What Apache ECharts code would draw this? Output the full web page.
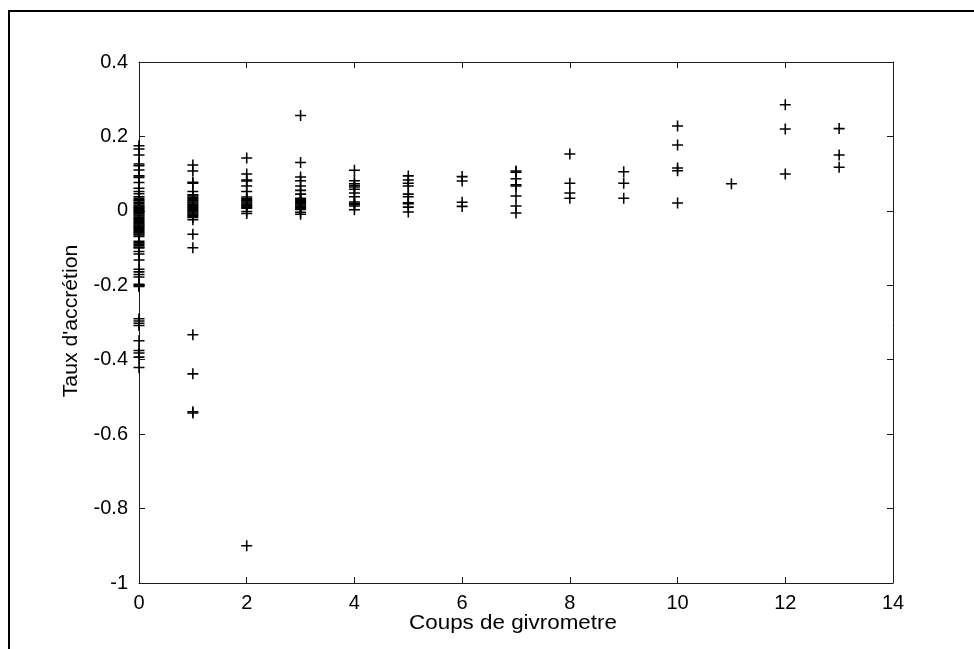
<!DOCTYPE html>
<html>
<head>
<meta charset="utf-8">
<script src="https://cdn.jsdelivr.net/npm/echarts@6/dist/echarts.min.js"></script>
<style>
html,body{margin:0;padding:0;background:#fff;}
#chart{width:974px;height:649px;}
</style>
</head>
<body>
<div id="chart"></div>
<script>
// ---- data ----
const xTickLabels = ['0','2','4','6','8','10','12','14'];
const yTickLabels = ['-1','-0.8','-0.6','-0.4','-0.2','0','0.2','0.4'];
const xAxisTitle = 'Coups de givrometre';
const yAxisTitle = "Taux d'accrétion";

const col0 = [0.175,0.166,0.150,0.126,0.121,0.110,0.094,0.090,0.076,0.061,0.052,0.046,
  0.038,0.034,0.030,0.027,0.023,0.020,0.016,0.013,0.010,0.007,0.004,0.001,-0.002,-0.005,
  -0.008,-0.011,-0.014,-0.017,-0.020,-0.023,-0.026,-0.029,-0.032,-0.035,-0.038,-0.041,
  -0.044,-0.047,-0.050,-0.053,-0.056,-0.059,-0.062,-0.065,-0.069,
  -0.082,-0.086,-0.090,-0.094,-0.098,-0.100,-0.109,-0.116,-0.132,-0.157,-0.164,-0.171,
  -0.178,-0.197,-0.200,-0.203,-0.290,-0.296,-0.302,-0.308,-0.349,-0.375,-0.382,-0.393,-0.421];
const col1 = [0.123,0.107,0.077,0.074,0.052,0.043,0.040,0.036,0.033,0.030,0.027,0.024,0.021,
  0.018,0.015,0.012,0.009,0.006,0.003,0.000,-0.003,-0.006,-0.009,-0.012,-0.015,-0.018,-0.024,
  -0.063,-0.099,-0.333,-0.438,-0.540,-0.543];
const col2 = [0.142,0.099,0.083,0.080,0.067,0.052,0.037,0.033,0.030,0.027,0.024,0.021,0.018,
  0.015,0.012,0.009,0.007,-0.002,-0.007,-0.900];
const col3 = [0.256,0.130,0.091,0.081,0.067,0.055,0.045,0.034,0.031,0.028,0.025,0.022,0.019,
  0.016,0.013,0.010,0.007,0.004,-0.004,-0.009];
const col4 = [0.109,0.081,0.073,0.068,0.064,0.058,0.048,0.038,0.024,0.020,0.017,0.013,0.003];
const col5 = [0.094,0.083,0.074,0.067,0.045,0.038,0.022,0.019,0.010,-0.003];
const col6 = [0.092,0.080,0.023,0.012];
const col7 = [0.107,0.104,0.086,0.070,0.067,0.040,0.013,-0.006];
const col8 = [0.153,0.074,0.048,0.034];
const col9 = [0.105,0.074,0.034];
const col10 = [0.228,0.177,0.115,0.108,0.021];
const col11 = [0.073];
const col12 = [0.285,0.220,0.099];
const col13 = [0.221,0.150,0.117];

const columnX = [0,1,2,3,4,5,6,7,8,9,10,11,12,13];
const columns = [col0,col1,col2,col3,col4,col5,col6,col7,col8,col9,col10,col11,col12,col13];

// ---- build ----
const points = [];
columns.forEach((c, i) => c.forEach(v => points.push([columnX[i], v])));

const FONT = '"Liberation Sans", Arial, sans-serif';
const AX = '#1a1a1a';
const plusPath = 'path://M4.3,0H5.7V4.3H10V5.7H5.7V10H4.3V5.7H0V4.3H4.3Z';

function lab(arr){ return v => { const s = arr.find(t => Math.abs(parseFloat(t) - v) < 1e-6); return s === undefined ? '' : s; }; }

const chart = echarts.init(document.getElementById('chart'), null, {renderer:'canvas'});
const common = {
  axisLine:{show:true, onZero:false, lineStyle:{color:AX, width:1}},
  axisTick:{show:true, inside:true, length:6, lineStyle:{color:AX, width:1}},
  splitLine:{show:false}
};
chart.setOption({
  animation:false,
  backgroundColor:'#fff',
  grid:{left:139, top:62, right:81, bottom:66, containLabel:false},
  xAxis:[
    Object.assign({type:'value', min:0, max:14, interval:2, position:'bottom',
      axisLabel:{show:true, margin:10, color:'#000', fontFamily:FONT, fontSize:20, formatter:lab(xTickLabels)}}, common),
    Object.assign({type:'value', min:0, max:14, interval:2, position:'top',
      axisLabel:{show:false}}, common)
  ],
  yAxis:[
    Object.assign({type:'value', min:-1, max:0.4, interval:0.2, position:'left',
      axisLabel:{show:true, margin:11, color:'#000', fontFamily:FONT, fontSize:20, formatter:lab(yTickLabels)}}, common),
    Object.assign({type:'value', min:-1, max:0.4, interval:0.2, position:'right',
      axisLabel:{show:false}}, common)
  ],
  series:[{
    type:'scatter',
    xAxisIndex:0, yAxisIndex:0,
    data:points,
    symbol:plusPath,
    symbolSize:11,
    itemStyle:{color:'#000', opacity:1},
    emphasis:{disabled:true}
  }],
  graphic:[
    {type:'polyline', silent:true, shape:{points:[[9,649],[9,11],[974,11]]},
      style:{stroke:'#000', lineWidth:2, fill:null}},
    {type:'text', silent:true, x:513, y:623, scaleX:1.12,
      style:{text:xAxisTitle, font:'20px ' + FONT, fill:'#000', align:'center', verticalAlign:'middle'}},
    {type:'text', silent:true, x:71, y:321, rotation:Math.PI/2, scaleX:1.06,
      style:{text:yAxisTitle, font:'20px ' + FONT, fill:'#000', align:'center', verticalAlign:'middle'}}
  ]
});
</script>
</body>
</html>
